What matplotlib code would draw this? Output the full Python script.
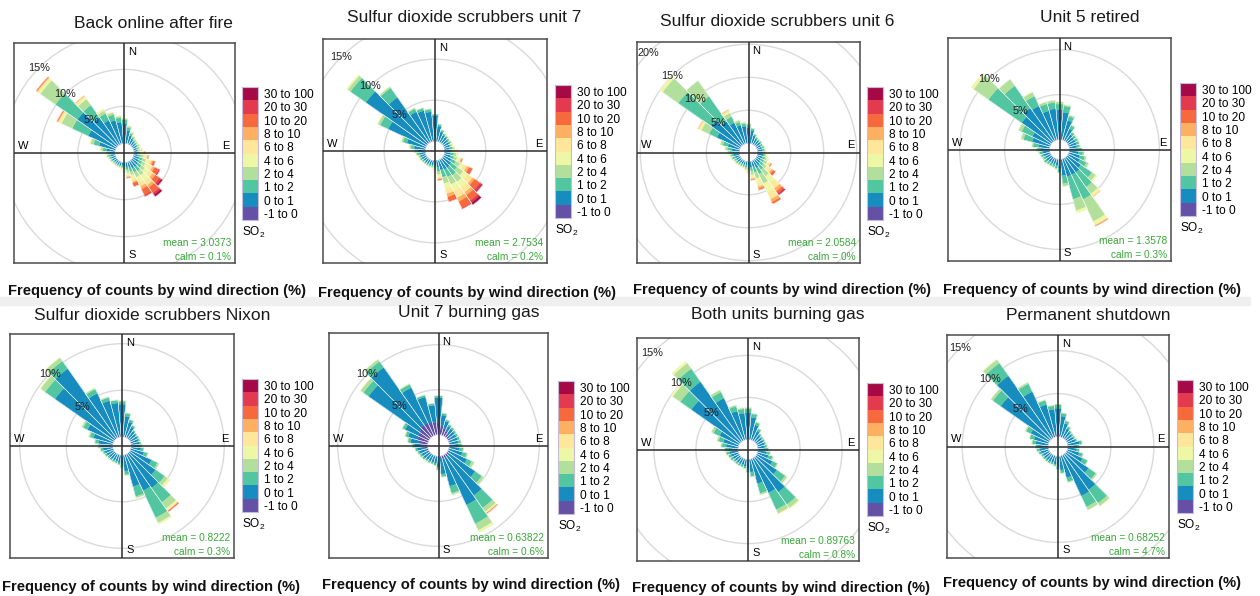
import numpy as np
import matplotlib
matplotlib.use("Agg")
import matplotlib.pyplot as plt
from matplotlib.patches import Wedge, Circle, Rectangle
from matplotlib.colors import ListedColormap, BoundaryNorm
from matplotlib.cm import ScalarMappable

plt.rcParams["font.family"] = ["Liberation Sans", "DejaVu Sans"]
plt.rcParams["mathtext.default"] = "regular"

# wind direction bins (deg, centre of 10 deg sector)
dirs = list(range(10, 361, 10))

# SO2 bins, low -> high
bins = ["-1 to 0", "0 to 1", "1 to 2", "2 to 4", "4 to 6",
        "6 to 8", "8 to 10", "10 to 20", "20 to 30", "30 to 100"]
cols = ["#6450A4", "#168CBF", "#52C6A0", "#B3DF9C", "#EEF7A6",
        "#FEE79A", "#FDB062", "#F6693C", "#E43A4F", "#A50A47"]

titles = ["Back online after fire", "Sulfur dioxide scrubbers unit 7",
          "Sulfur dioxide scrubbers unit 6", "Unit 5 retired",
          "Sulfur dioxide scrubbers Nixon", "Unit 7 burning gas",
          "Both units burning gas", "Permanent shutdown"]
means = ["3.0373", "2.7534", "2.0584", "1.3578",
         "0.8222", "0.63822", "0.89763", "0.68252"]
calms = ["0.1%", "0.2%", "0%", "0.3%", "0.3%", "0.6%", "0.8%", "4.7%"]
grids = [[5, 10, 15], [5, 10, 15], [5, 10, 15, 20], [5, 10],
         [5, 10], [5, 10], [5, 10, 15], [5, 10, 15]]

# frequency (%) per direction, stacked by SO2 bin (rows follow dirs)
rose_fire = [
    [0.05, 1.7, 0.4, 0.2, 0.1], [0.05, 1.1, 0.3, 0.2, 0.1], [0.05, 0.8, 0.2, 0.2, 0.1],
    [0.05, 0.6, 0.2, 0.2, 0.1], [0.05, 0.5, 0.2, 0.2, 0.1], [0.03, 0.5, 0.2, 0.2, 0.1, 0.05],
    [0.03, 0.4, 0.2, 0.2, 0.1, 0.05], [0.03, 0.4, 0.2, 0.2, 0.15, 0.1, 0.05],
    [0.02, 0.4, 0.3, 0.3, 0.2, 0.1, 0.1, 0.1], [0.02, 0.5, 0.4, 0.4, 0.3, 0.2, 0.1, 0.1],
    [0.02, 0.7, 0.5, 0.5, 0.5, 0.3, 0.2, 0.3], [0.02, 0.8, 0.5, 0.5, 0.6, 0.5, 0.3, 0.6, 0.2],
    [0.02, 0.9, 0.6, 0.6, 0.7, 0.6, 0.4, 0.7, 0.3, 0.2],
    [0.02, 1.0, 0.7, 0.7, 0.9, 0.7, 0.4, 0.9, 0.3, 0.3],
    [0.02, 1.0, 0.6, 0.7, 0.8, 0.6, 0.4, 0.9, 0.2], [0.02, 0.8, 0.5, 0.5, 0.5, 0.4, 0.2, 0.5],
    [0.02, 0.6, 0.4, 0.4, 0.3, 0.2, 0.1, 0.1], [0.02, 0.5, 0.3, 0.2, 0.2, 0.1],
    [0.02, 0.4, 0.2, 0.2, 0.1, 0.05], [0.02, 0.4, 0.2, 0.15, 0.1], [0.02, 0.4, 0.2, 0.15, 0.1],
    [0.02, 0.4, 0.2, 0.1, 0.05], [0.02, 0.4, 0.2, 0.15, 0.05], [0.02, 0.5, 0.2, 0.15, 0.05],
    [0.02, 0.5, 0.25, 0.15, 0.05], [0.03, 0.6, 0.3, 0.2, 0.05], [0.03, 0.7, 0.3, 0.2, 0.1],
    [0.05, 1.1, 0.5, 0.3, 0.1, 0.05], [0.05, 2.2, 0.8, 0.4, 0.1, 0.05],
    [0.1, 4.0, 2.4, 1.6, 0.3, 0.2, 0.1, 0.1], [0.1, 6.4, 3.6, 2.5, 0.3, 0.2, 0.1, 0.1],
    [0.1, 4.5, 2.0, 1.0, 0.3, 0.2, 0.1], [0.1, 3.5, 1.0, 0.4, 0.2, 0.1],
    [0.1, 3.2, 0.8, 0.3, 0.1], [0.1, 2.8, 0.6, 0.2, 0.1], [0.1, 2.6, 0.5, 0.2]]

rose_unit7 = [
    [0.05, 1.8, 0.2, 0.1], [0.05, 1.2, 0.2, 0.1], [0.05, 0.9, 0.2, 0.1],
    [0.05, 0.8, 0.2, 0.1, 0.05], [0.05, 0.7, 0.2, 0.1, 0.05], [0.03, 0.7, 0.2, 0.15, 0.05],
    [0.03, 0.6, 0.2, 0.15, 0.1, 0.05], [0.03, 0.6, 0.3, 0.2, 0.1, 0.05],
    [0.02, 0.6, 0.3, 0.3, 0.2, 0.1, 0.05], [0.02, 0.7, 0.4, 0.3, 0.2, 0.1],
    [0.02, 0.8, 0.4, 0.4, 0.3, 0.2, 0.1, 0.1], [0.02, 1.0, 0.6, 0.6, 0.5, 0.4, 0.3, 0.4, 0.05],
    [0.02, 1.2, 0.9, 0.9, 0.7, 0.7, 0.3, 0.8, 0.3, 0.1],
    [0.02, 1.3, 1.1, 1.0, 0.8, 0.8, 0.4, 0.8, 0.3, 0.3],
    [0.02, 1.3, 1.0, 1.0, 0.9, 0.9, 0.5, 0.9, 0.1], [0.02, 1.2, 0.9, 0.8, 0.7, 0.6, 0.4, 0.6],
    [0.02, 0.8, 0.5, 0.4, 0.3, 0.2, 0.1, 0.1], [0.02, 0.6, 0.3, 0.2, 0.1, 0.05],
    [0.02, 0.5, 0.2, 0.15, 0.05], [0.02, 0.5, 0.2, 0.1, 0.05], [0.02, 0.5, 0.2, 0.1],
    [0.02, 0.5, 0.2, 0.1], [0.02, 0.5, 0.2, 0.1], [0.02, 0.6, 0.2, 0.1],
    [0.03, 0.6, 0.2, 0.1, 0.05], [0.03, 0.7, 0.3, 0.1, 0.05], [0.05, 0.9, 0.3, 0.15, 0.05],
    [0.05, 1.3, 0.4, 0.2, 0.1], [0.05, 2.3, 0.5, 0.2, 0.1], [0.1, 5.0, 1.1, 0.3, 0.1],
    [0.1, 9.0, 2.3, 0.4, 0.2], [0.1, 6.7, 1.4, 0.2, 0.05], [0.1, 4.0, 0.4, 0.15],
    [0.1, 3.8, 0.3, 0.1], [0.1, 3.5, 0.3, 0.1], [0.1, 3.0, 0.2]]

rose_unit6 = [
    [0.05, 1.9, 0.3, 0.1], [0.05, 1.2, 0.25, 0.1], [0.05, 0.9, 0.2, 0.1],
    [0.05, 0.8, 0.2, 0.1], [0.05, 0.8, 0.2, 0.1], [0.03, 0.7, 0.25, 0.1],
    [0.03, 0.7, 0.3, 0.15], [0.03, 0.7, 0.3, 0.2, 0.05], [0.02, 0.7, 0.3, 0.2, 0.1],
    [0.02, 0.8, 0.3, 0.2, 0.1, 0.05], [0.02, 0.8, 0.4, 0.3, 0.2, 0.1],
    [0.02, 0.7, 0.5, 0.5, 0.4, 0.2, 0.1, 0.1], [0.02, 0.8, 0.6, 0.6, 0.5, 0.4, 0.3, 0.3, 0.1],
    [0.02, 1.0, 0.8, 1.2, 1.3, 1.0, 0.5, 0.4, 0.2, 0.1],
    [0.02, 1.2, 1.0, 1.6, 1.5, 1.1, 0.5, 0.3], [0.02, 0.9, 0.8, 1.0, 0.8, 0.5, 0.3, 0.2],
    [0.02, 0.8, 0.6, 0.6, 0.4, 0.2, 0.1, 0.1], [0.02, 0.6, 0.5, 0.4, 0.2, 0.1],
    [0.02, 0.5, 0.4, 0.3, 0.1], [0.02, 0.5, 0.3, 0.2, 0.1], [0.02, 0.5, 0.3, 0.2, 0.05],
    [0.02, 0.5, 0.3, 0.2], [0.02, 0.6, 0.3, 0.2], [0.02, 0.6, 0.3, 0.2, 0.05],
    [0.03, 0.7, 0.4, 0.2, 0.05], [0.03, 0.8, 0.4, 0.2, 0.05], [0.05, 0.9, 0.5, 0.3, 0.1],
    [0.05, 1.2, 0.6, 0.3, 0.1], [0.05, 1.8, 0.8, 0.4, 0.1],
    [0.1, 3.8, 1.3, 1.3, 0.3, 0.2, 0.1], [0.1, 5.4, 6.1, 2.9, 0.4, 0.1],
    [0.1, 4.3, 4.6, 2.9], [0.1, 3.5, 1.0, 0.6, 0.3, 0.2, 0.1],
    [0.1, 2.8, 0.5, 0.3, 0.1], [0.1, 2.5, 0.4, 0.2, 0.1], [0.1, 2.3, 0.4, 0.2]]

rose_unit5 = [
    [0.05, 3.0, 0.7, 0.15], [0.05, 2.2, 0.5, 0.15], [0.05, 1.4, 0.4, 0.1],
    [0.05, 0.9, 0.3, 0.1], [0.05, 0.8, 0.3, 0.1], [0.05, 0.8, 0.3, 0.1],
    [0.05, 0.8, 0.3, 0.1], [0.05, 0.8, 0.3, 0.1], [0.03, 0.9, 0.4, 0.1],
    [0.03, 1.0, 0.5, 0.15], [0.03, 1.2, 0.6, 0.2], [0.02, 1.4, 0.8, 0.3],
    [0.02, 1.8, 1.5, 0.5, 0.2], [0.02, 2.0, 2.0, 0.9, 0.3, 0.1, 0.05],
    [0.02, 2.0, 3.0, 2.7, 0.4, 0.1, 0.05, 0.05], [0.02, 2.0, 2.6, 1.3, 0.3],
    [0.02, 1.8, 0.9, 0.3], [0.02, 1.0, 0.4, 0.1], [0.02, 0.7, 0.3, 0.1],
    [0.02, 0.6, 0.3, 0.1], [0.02, 0.6, 0.3, 0.1], [0.02, 0.6, 0.3, 0.1],
    [0.02, 0.7, 0.3, 0.1], [0.03, 0.6, 0.3, 0.1], [0.03, 0.7, 0.3, 0.1],
    [0.03, 0.8, 0.3, 0.1], [0.05, 0.9, 0.4, 0.15], [0.05, 1.2, 0.6, 0.15],
    [0.05, 2.0, 1.0, 0.3], [0.05, 2.2, 1.3, 0.4], [0.05, 4.0, 4.5, 2.0, 0.3, 0.05],
    [0.05, 4.5, 3.0, 0.9], [0.05, 4.2, 1.2, 0.5, 0.05], [0.05, 3.3, 0.8, 0.25],
    [0.05, 3.4, 0.7, 0.25], [0.05, 3.3, 0.6, 0.25]]

rose_nixon = [
    [0.12, 2.1, 0.3, 0.1], [0.1, 1.6, 0.25, 0.05], [0.08, 1.2, 0.2, 0.05],
    [0.05, 0.9, 0.15, 0.05], [0.05, 0.8, 0.15, 0.05], [0.05, 0.8, 0.15, 0.05],
    [0.05, 0.8, 0.15, 0.05], [0.05, 0.8, 0.2, 0.05], [0.05, 0.9, 0.2, 0.05],
    [0.05, 1.0, 0.3, 0.05], [0.03, 1.4, 0.4, 0.1], [0.02, 2.5, 0.7, 0.2],
    [0.02, 3.4, 1.2, 0.4, 0.2, 0.1], [0.02, 4.5, 1.9, 0.8, 0.2, 0.1, 0.05, 0.05, 0.03],
    [0.02, 4.3, 3.2, 0.6, 0.2], [0.02, 3.5, 1.1, 0.2], [0.02, 1.7, 0.4, 0.1],
    [0.02, 1.0, 0.3, 0.05], [0.02, 0.8, 0.2, 0.05], [0.02, 0.7, 0.2, 0.05],
    [0.02, 0.7, 0.2, 0.05], [0.02, 0.7, 0.2, 0.05], [0.02, 0.7, 0.2, 0.05],
    [0.03, 0.8, 0.2, 0.05], [0.03, 0.9, 0.2, 0.05], [0.05, 1.0, 0.25, 0.05],
    [0.05, 1.2, 0.3, 0.05], [0.05, 1.5, 0.35, 0.1], [0.08, 2.1, 0.4, 0.15],
    [0.1, 3.0, 0.5, 0.2], [0.1, 7.7, 1.3, 0.6, 0.1], [0.15, 9.0, 1.0, 0.45, 0.05],
    [0.15, 5.1, 0.5, 0.15], [0.15, 3.9, 0.35, 0.1], [0.15, 3.5, 0.3, 0.05],
    [0.15, 3.35, 0.3, 0.1]]

rose_gas7 = [
    [1.0, 1.2, 0.2, 0.05], [0.8, 0.8, 0.2], [0.6, 0.6, 0.2, 0.05],
    [0.4, 0.7, 0.2, 0.05], [0.3, 0.7, 0.2, 0.05], [0.2, 0.8, 0.2, 0.05],
    [0.1, 0.9, 0.25, 0.05], [0.1, 0.9, 0.3, 0.05], [0.05, 1.0, 0.3, 0.1],
    [0.05, 1.1, 0.4, 0.1], [0.05, 1.5, 0.5, 0.15], [0.1, 2.2, 0.6, 0.3],
    [0.2, 3.6, 0.9, 0.3], [0.3, 5.3, 1.7, 0.5, 0.1, 0.1, 0.05, 0.05],
    [0.3, 5.8, 2.3, 0.8, 0.3], [0.3, 3.2, 0.8, 0.2], [0.2, 1.8, 0.3, 0.05],
    [0.1, 1.1, 0.3, 0.05], [0.05, 0.8, 0.2, 0.05], [0.05, 0.7, 0.2, 0.05],
    [0.05, 0.7, 0.2, 0.05], [0.05, 0.7, 0.2, 0.05], [0.05, 0.8, 0.2, 0.05],
    [0.1, 0.8, 0.2, 0.05], [0.2, 0.8, 0.2, 0.05], [0.4, 0.8, 0.2, 0.05],
    [0.7, 0.8, 0.2, 0.05], [1.0, 0.9, 0.3, 0.1], [1.2, 1.1, 0.3, 0.1],
    [1.3, 1.6, 0.3, 0.1], [1.4, 6.9, 0.7, 0.4, 0.05], [1.6, 7.8, 0.8, 0.3],
    [1.6, 4.3, 0.4, 0.1], [1.5, 2.9, 0.2, 0.05], [1.4, 1.9, 0.2, 0.05],
    [1.3, 2.8, 0.2, 0.05]]

rose_gasboth = [
    [0.05, 2.6, 0.4, 0.1], [0.05, 1.8, 0.3, 0.1], [0.05, 1.2, 0.3, 0.05],
    [0.03, 0.9, 0.2, 0.05], [0.03, 0.8, 0.2, 0.05], [0.03, 0.8, 0.2, 0.05],
    [0.03, 0.8, 0.2, 0.05], [0.03, 0.8, 0.25, 0.05], [0.03, 0.9, 0.3, 0.05],
    [0.02, 1.0, 0.4, 0.1], [0.02, 1.3, 0.5, 0.15], [0.02, 2.0, 0.6, 0.15],
    [0.02, 3.0, 1.2, 0.3, 0.05], [0.02, 5.0, 1.8, 0.5, 0.15], [0.02, 4.5, 2.2, 0.5, 0.1],
    [0.02, 3.0, 1.2, 0.2], [0.02, 1.5, 0.5, 0.1], [0.02, 1.1, 0.35, 0.05],
    [0.02, 0.8, 0.25, 0.05], [0.02, 0.7, 0.25, 0.05], [0.02, 0.7, 0.25, 0.05],
    [0.02, 0.7, 0.25, 0.05], [0.02, 0.7, 0.25, 0.05], [0.02, 0.8, 0.3, 0.05],
    [0.02, 0.9, 0.3, 0.05], [0.03, 1.0, 0.35, 0.1], [0.03, 1.1, 0.4, 0.1],
    [0.03, 1.4, 0.5, 0.15], [0.05, 1.8, 0.6, 0.2], [0.05, 2.5, 0.8, 0.3],
    [0.05, 7.0, 1.6, 1.1, 0.2], [0.05, 8.6, 1.9, 0.8, 0.3], [0.05, 5.5, 0.8, 0.3],
    [0.05, 3.5, 0.6, 0.15], [0.05, 3.1, 0.5, 0.15], [0.05, 3.1, 0.5, 0.15]]

rose_shutdown = [
    [0.2, 2.2, 0.35, 0.05], [0.15, 1.5, 0.3, 0.05], [0.1, 1.1, 0.25, 0.05],
    [0.05, 0.9, 0.2, 0.05], [0.05, 0.8, 0.2, 0.05], [0.05, 0.8, 0.2, 0.05],
    [0.05, 0.9, 0.2, 0.05], [0.05, 1.3, 0.3, 0.05], [0.05, 1.0, 0.25, 0.05],
    [0.05, 1.0, 0.3, 0.05], [0.03, 1.4, 0.4, 0.1], [0.02, 2.0, 0.6, 0.1],
    [0.02, 3.2, 1.0, 0.2], [0.02, 5.0, 1.9, 0.4, 0.05], [0.02, 5.2, 1.4, 0.4],
    [0.02, 2.6, 0.5, 0.1], [0.02, 1.6, 0.35, 0.05], [0.02, 1.2, 0.25, 0.05],
    [0.02, 0.9, 0.2, 0.05], [0.02, 0.8, 0.2, 0.05], [0.02, 0.8, 0.2, 0.05],
    [0.02, 0.8, 0.2, 0.05], [0.02, 0.8, 0.2, 0.05], [0.02, 0.8, 0.2, 0.05],
    [0.03, 0.9, 0.25, 0.05], [0.03, 1.0, 0.3, 0.05], [0.05, 1.1, 0.3, 0.05],
    [0.05, 1.4, 0.4, 0.1], [0.05, 1.7, 0.5, 0.1], [0.05, 2.3, 0.6, 0.15],
    [0.1, 6.9, 1.1, 0.3], [0.1, 8.8, 1.8, 0.5, 0.05], [0.1, 5.8, 1.0, 0.2],
    [0.2, 3.7, 0.5, 0.1], [0.3, 2.9, 0.4, 0.1], [0.3, 3.0, 0.4, 0.1]]

roses = [rose_fire, rose_unit7, rose_unit6, rose_unit5,
         rose_nixon, rose_gas7, rose_gasboth, rose_shutdown]

# layout in pixels: plot box (left, top, w, h), px per %, hole, legend (left, top)
boxes = [(14, 43, 221, 220), (323, 39, 224, 224), (637, 42, 223, 221), (948, 38, 223, 223),
         (10, 334, 224, 224), (329, 333, 219, 225), (637, 338, 222, 223), (947, 335, 222, 223)]
ppp = [7.4, 8.2, 6.6, 9.0, 9.3, 9.0, 8.4, 8.6]
hole = [1.3, 1.2, 1.4, 1.1, 1.0, 1.2, 1.2, 1.15]
legs = [(242, 87), (555, 85), (867, 87), (1180, 83), (242, 379), (558, 381), (867, 383), (1177, 380)]
title_xy = [(153, 23), (464, 18), (777, 22), (1090, 18), (152, 315), (469, 313), (778, 315), (1088, 315)]
sub_xy = [(8, 291), (318, 293), (633, 290), (943, 290), (2, 587), (322, 585), (632, 588), (943, 583)]

W, H = 1260, 596
fig = plt.figure(figsize=(W / 100, H / 100), dpi=100)

def rect(x, y, w, h):
    return [x / W, 1 - (y + h) / H, w / W, h / H]

fig.patches.append(Rectangle((0, 1 - 305 / H), 1250 / W, 8 / H, transform=fig.transFigure,
                             color="#EFEFEF", zorder=0))

cmap = ListedColormap(cols)
norm = BoundaryNorm(np.arange(11), 10)
green = "#3AA63A"

for i in range(8):
    bx, by, bw, bh = boxes[i]
    s, off = ppp[i], hole[i]
    ax = fig.add_axes(rect(bx, by, bw, bh))
    ax.set_xlim(-bw / 2 / s, bw / 2 / s)
    ax.set_ylim(-bh / 2 / s, bh / 2 / s)
    ax.set_xticks([]); ax.set_yticks([])
    for sp in ax.spines.values():
        sp.set_color("#4a4a4a"); sp.set_linewidth(1.1)
    for g in grids[i]:
        ax.add_patch(Circle((0, 0), off + g, fill=False, ec="#DADADA", lw=1.0, zorder=1))
    for d, stack in zip(dirs, roses[i]):
        r0 = off
        for k, v in enumerate(stack):
            ax.add_patch(Wedge((0, 0), r0 + v, 90 - d - 5, 90 - d + 5, width=v,
                               fc=cols[k], ec=cols[k], lw=0.2, zorder=2))
            r0 += v
        ax.add_patch(Wedge((0, 0), r0, 90 - d - 5, 90 - d + 5, width=r0 - off,
                           fc="none", ec="white", lw=0.3, zorder=2.5))
    ax.axhline(0, color="#2b2b2b", lw=1.1, zorder=3)
    ax.axvline(0, color="#2b2b2b", lw=1.1, zorder=3)
    for g in grids[i]:
        r = off + g
        ax.text(r * np.cos(np.radians(135)), r * np.sin(np.radians(135)), f"{g}%",
                ha="center", va="center", fontsize=7.8, color="#222222", zorder=4)
    fx, fy = 1 / bw, 1 / bh
    ax.text(0.5 + 4 * fx, 1 - 9 * fy, "N", transform=ax.transAxes, ha="left", va="center", fontsize=8)
    ax.text(0.5 + 4 * fx, 8 * fy, "S", transform=ax.transAxes, ha="left", va="center", fontsize=8)
    ax.text(4 * fx, 0.5 + 7 * fy, "W", transform=ax.transAxes, ha="left", va="center", fontsize=8)
    ax.text(1 - 5 * fx, 0.5 + 7 * fy, "E", transform=ax.transAxes, ha="right", va="center", fontsize=8)
    ax.text(1 - 4 * fx, 20 * fy, f"mean = {means[i]}", transform=ax.transAxes,
            ha="right", va="center", fontsize=7.3, color=green)
    ax.text(1 - 4 * fx, 6 * fy, f"calm = {calms[i]}", transform=ax.transAxes,
            ha="right", va="center", fontsize=7.3, color=green)

    lx, ly = legs[i]
    cax = fig.add_axes(rect(lx, ly, 16, 133))
    cb = fig.colorbar(ScalarMappable(norm=norm, cmap=cmap), cax=cax)
    cb.set_ticks(np.arange(10) + 0.5)
    cb.set_ticklabels(bins)
    cb.minorticks_off()
    cb.ax.tick_params(which="both", length=0, width=0, pad=4, labelsize=8.6)
    cb.outline.set_edgecolor("#C4BBDF"); cb.outline.set_linewidth(0.8)
    fig.text((lx) / W, 1 - (ly + 133 + 12) / H, "SO$_2$", ha="left", va="center", fontsize=8.6)

    tx, ty = title_xy[i]
    fig.text(tx / W, 1 - ty / H, titles[i], ha="center", va="center", fontsize=12.5, color="#1a1a1a")
    sx, sy = sub_xy[i]
    fig.text(sx / W, 1 - sy / H, "Frequency of counts by wind direction (%)",
             ha="left", va="center", fontsize=10.6, fontweight="bold", color="#111111")

fig.savefig("out.png", dpi=100)
